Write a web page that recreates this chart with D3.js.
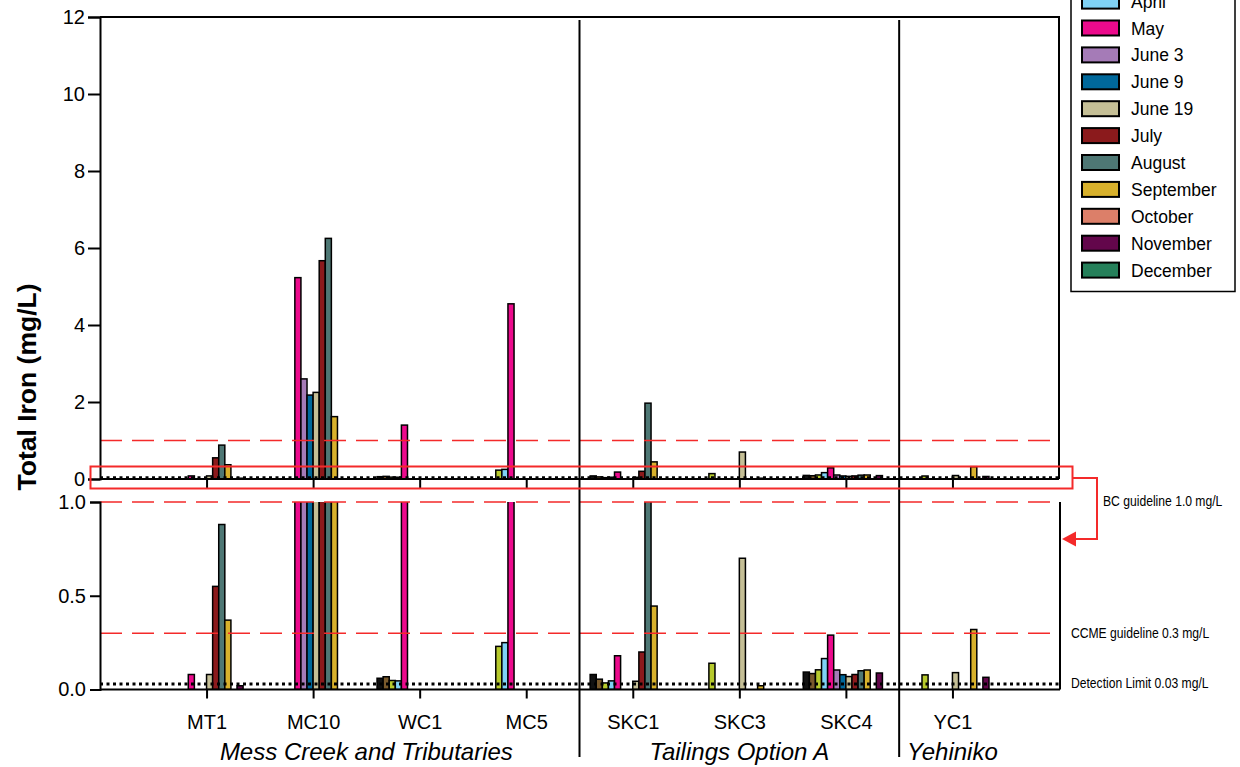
<!DOCTYPE html>
<html>
<head>
<meta charset="utf-8">
<script src="https://cdn.jsdelivr.net/npm/d3@7/dist/d3.min.js"></script>
<style>
  html, body { margin: 0; padding: 0; background: #fff; }
  svg { display: block; font-family: "Liberation Sans", Arial, sans-serif; }
</style>
</head>
<body>
<svg id="chart" width="1240" height="767"></svg>
<script>
// Sampling sites along the x axis
const sites = ["MT1", "MC10", "WC1", "MC5", "SKC1", "SKC3", "SKC4", "YC1"];

// Site groupings shown under the axis
const groupNames = ["Mess Creek and Tributaries", "Tailings Option A", "Yehiniko"];
const groupSites = [["MT1", "MC10", "WC1", "MC5"], ["SKC1", "SKC3", "SKC4"], ["YC1"]];

// Sampling events (legend order)
const events = ["January", "February", "March", "April", "May", "June 3", "June 9",
  "June 19", "July", "August", "September", "October", "November", "December"];
const eventColors = ["#111111", "#7a5a2c", "#b7ca2d", "#7fd2f5", "#ec0a8c", "#a57bb7", "#00689b",
  "#c5bf96", "#8b1a1c", "#4e7774", "#d8b12c", "#dc7f69", "#63064b", "#25805a"];

// Total iron (mg/L) per event, one value per site (null = not sampled)
const january   = [null, null, 0.060, null, 0.080, null, 0.093, null];
const february  = [null, null, 0.068, null, 0.055, null, 0.085, null];
const march     = [null, null, 0.048, 0.23, 0.035, 0.14, 0.105, 0.078];
const april     = [null, null, 0.046, 0.25, 0.046, null, 0.165, null];
const may       = [0.08, 5.23, 1.40, 4.55, 0.18, null, 0.29, null];
const june3     = [null, 2.60, null, null, null, null, 0.104, null];
const june9     = [null, 2.18, null, null, null, null, 0.079, null];
const june19    = [0.08, 2.25, null, null, 0.044, 0.70, 0.069, 0.09];
const july      = [0.55, 5.67, null, null, 0.20, null, 0.080, null];
const august    = [0.88, 6.25, null, null, 1.97, null, 0.100, null];
const september = [0.37, 1.62, null, null, 0.445, 0.02, 0.104, 0.32];
const october   = [null, null, null, null, null, null, null, null];
const november  = [0.02, null, null, null, null, null, 0.088, 0.065];
const december  = [null, null, null, null, null, null, null, null];
const seriesValues = [january, february, march, april, may, june3, june9,
  june19, july, august, september, october, november, december];

// Axis ticks
const topTicks = [0, 2, 4, 6, 8, 10, 12];
const bottomTicks = [0.0, 0.5, 1.0];

// Reference levels
const bcGuideline = 1.0;
const ccmeGuideline = 0.3;
const detectionLimit = 0.03;
const guideLabels = ["BC guideline 1.0 mg/L", "CCME guideline 0.3 mg/L", "Detection Limit 0.03 mg/L"];

const yTitle = "Total Iron (mg/L)";

// ---------------------------------------------------------------
const svg = d3.select("#chart");
const left = 100, right = 1059;

const x = d3.scalePoint().domain(sites).range([left, right]).padding(1);
const groupW = x.step() * 0.8;
const xi = d3.scaleBand().domain(events).range([-groupW / 2, groupW / 2]).padding(0);

const yTop = d3.scaleLinear().domain([0, 12]).range([479, 17]);
const yBot = d3.scaleLinear().domain([0, 1]).range([689.5, 502]);

const red = "#f42a2a";

// Flatten into bar records
const bars = [];
seriesValues.forEach((vals, ei) => {
  vals.forEach((v, si) => {
    if (v != null) bars.push({ site: sites[si], event: events[ei], color: eventColors[ei], value: v });
  });
});

// Clip for the lower (zoomed) panel
svg.append("defs").append("clipPath").attr("id", "botClip")
  .append("rect").attr("x", left).attr("y", yBot(1)).attr("width", right - left).attr("height", yBot(0) - yBot(1));

function drawBars(g, y) {
  g.selectAll("rect").data(bars).join("rect")
    .attr("x", d => x(d.site) + xi(d.event))
    .attr("width", xi.bandwidth())
    .attr("y", d => y(d.value))
    .attr("height", d => y(0) - y(d.value))
    .attr("fill", d => d.color)
    .attr("stroke", "#000")
    .attr("stroke-width", 1.5);
}

drawBars(svg.append("g"), yTop);
drawBars(svg.append("g").attr("clip-path", "url(#botClip)"), yBot);

// Reference lines
function hline(y, color, dash, width) {
  svg.append("line").attr("x1", left).attr("x2", right).attr("y1", y).attr("y2", y)
    .attr("stroke", color).attr("stroke-width", width).attr("stroke-dasharray", dash);
}
hline(yTop(bcGuideline), red, "22,10", 1.6);
hline(yBot(bcGuideline), red, "22,10", 1.6);
hline(yBot(ccmeGuideline), red, "22,10", 1.6);

// Axes: upper panel
const axTop = svg.append("g").attr("transform", `translate(${left},0)`)
  .call(d3.axisLeft(yTop).tickValues(topTicks).tickFormat(d3.format("d")).tickSize(12).tickPadding(3));
const axTopX = svg.append("g").attr("transform", `translate(0,${yTop(0)})`)
  .call(d3.axisBottom(x).tickSize(9).tickFormat(""));
// frame of the upper panel
svg.append("path").attr("d", `M${left},${yTop(12)}H${right}V${yTop(0)}`)
  .attr("fill", "none").attr("stroke", "#000").attr("stroke-width", 2);

// Axes: lower panel
const axBot = svg.append("g").attr("transform", `translate(${left},0)`)
  .call(d3.axisLeft(yBot).tickValues(bottomTicks).tickFormat(d3.format(".1f")).tickSize(10).tickPadding(4));
const axBotX = svg.append("g").attr("transform", `translate(0,${yBot(0)})`)
  .call(d3.axisBottom(x).tickSize(9).tickPadding(16));
svg.append("line").attr("x1", right + 1).attr("x2", right + 1).attr("y1", yBot(1)).attr("y2", yBot(0))
  .attr("stroke", "#000").attr("stroke-width", 2);

[axTop, axTopX, axBot, axBotX].forEach(a => {
  a.select(".domain").attr("stroke-width", 2).attr("stroke", "#000");
  a.selectAll(".tick line").attr("stroke-width", 2).attr("stroke", "#000");
  a.selectAll(".tick text").attr("font-size", 20).attr("fill", "#000")
    .attr("font-family", "'Liberation Sans', Arial, sans-serif");
});
axTopX.select(".domain").attr("d", `M${left},0H${right}`);
axBotX.select(".domain").attr("d", `M${left},0H${right + 1}`);

// Detection limit (dotted) in both panels
svg.append("line").attr("x1", left).attr("x2", right).attr("y1", yTop(detectionLimit)).attr("y2", yTop(detectionLimit))
  .attr("stroke", "#000").attr("stroke-width", 3).attr("stroke-dasharray", "3,3.5");
svg.append("line").attr("x1", left).attr("x2", right).attr("y1", yBot(detectionLimit)).attr("y2", yBot(detectionLimit))
  .attr("stroke", "#000").attr("stroke-width", 3).attr("stroke-dasharray", "3,3.5");

// Dividers between site groups
for (let i = 0; i < groupSites.length - 1; i++) {
  const a = groupSites[i][groupSites[i].length - 1], b = groupSites[i + 1][0];
  const xd = (x(a) + x(b)) / 2;
  svg.append("line").attr("x1", xd).attr("x2", xd).attr("y1", 20).attr("y2", 757)
    .attr("stroke", "#000").attr("stroke-width", 2);
}

// Group labels
groupNames.forEach((name, i) => {
  const cx = d3.mean(groupSites[i], s => x(s));
  svg.append("text").attr("x", cx).attr("y", 760).attr("text-anchor", "middle")
    .attr("font-size", 24).attr("font-style", "italic").text(name);
});

// Y-axis title
svg.append("text").attr("transform", "translate(36,387) rotate(-90)")
  .attr("text-anchor", "middle").attr("font-size", 26.5).attr("font-weight", "bold").text(yTitle);

// Highlight box around the near-zero band of the upper panel, with callout arrow
svg.append("rect").attr("x", 90.5).attr("y", 466.5).attr("width", 982).attr("height", 22)
  .attr("fill", "none").attr("stroke", red).attr("stroke-width", 2);
svg.append("path").attr("d", "M1072.5,478H1097V539H1074")
  .attr("fill", "none").attr("stroke", red).attr("stroke-width", 2);
svg.append("path").attr("d", "M1062,539L1076,531.5V546.5Z").attr("fill", red);

// Reference level labels (condensed type)
const labelY = [506, yBot(ccmeGuideline) + 4.5, yBot(detectionLimit) + 4.5];
const labelX = [1103, 1071, 1071];
guideLabels.forEach((t, i) => {
  svg.append("text").attr("transform", `translate(${labelX[i]},${labelY[i]}) scale(0.81,1)`)
    .attr("font-size", 15).text(t);
});

// Legend
const lg = svg.append("g");
const legTop = -101, legStep = 26.9, firstY = 28 - 4 * 26.9;
lg.append("rect").attr("x", 1071).attr("y", legTop).attr("width", 164).attr("height", 291.5 - legTop)
  .attr("fill", "#fff").attr("stroke", "#000").attr("stroke-width", 1.5);
events.forEach((ev, i) => {
  const cy = firstY + i * legStep;
  lg.append("rect").attr("x", 1082).attr("y", cy - 7.5).attr("width", 37).attr("height", 15)
    .attr("fill", eventColors[i]).attr("stroke", "#000").attr("stroke-width", 2);
  lg.append("text").attr("x", 1131).attr("y", cy + 6.5).attr("font-size", 17.5).text(ev);
});
</script>
</body>
</html>
